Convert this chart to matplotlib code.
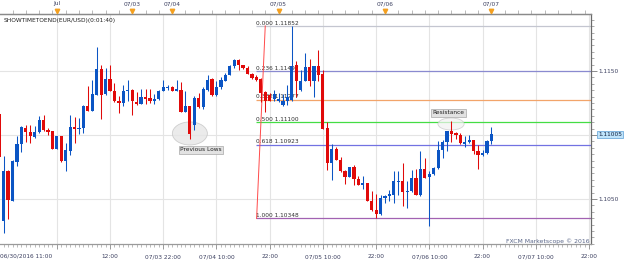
import matplotlib
matplotlib.use("Agg")
import matplotlib.pyplot as plt
from matplotlib.patches import Ellipse
from matplotlib.ticker import FixedLocator, MultipleLocator, NullFormatter
import numpy as np

# ---------------- data (hourly EUR/USD candles) ----------------
opens = [1.11165, 1.10331, 1.10716, 1.10487, 1.10789, 1.10930, 1.11055, 1.11024, 1.10987, 1.11021,
         1.11115, 1.11042, 1.11029, 1.10893, 1.10990, 1.10794, 1.10878, 1.11065, 1.11050, 1.11055,
         1.11227, 1.11190, 1.11315, 1.11518, 1.11320, 1.11438, 1.11346, 1.11268, 1.11250, 1.11341,
         1.11354, 1.11261, 1.11245, 1.11297, 1.11289, 1.11268, 1.11284, 1.11346, 1.11370, 1.11372,
         1.11346, 1.11354, 1.11182, 1.11224, 1.11081, 1.11289, 1.11216, 1.11354, 1.11438, 1.11310,
         1.11372, 1.11425, 1.11471, 1.11537, 1.11589, 1.11550, 1.11524, 1.11477, 1.11450, 1.11438,
         1.11336, 1.11315, 1.11284, 1.11268, 1.11232, 1.11268, 1.11276, 1.11544, 1.11354, 1.11425,
         1.11529, 1.11425, 1.11537, 1.11477, 1.11055, 1.10781, 1.10893, 1.10807, 1.10722, 1.10669,
         1.10750, 1.10656, 1.10612, 1.10625, 1.10487, 1.10417, 1.10386, 1.10508, 1.10521, 1.10534,
         1.10633, 1.10643, 1.10552, 1.10560, 1.10664, 1.10529, 1.10734, 1.10669, 1.10695, 1.10742,
         1.10886, 1.10945, 1.11029, 1.11016, 1.11003, 1.10930, 1.10943, 1.10958, 1.10878, 1.10847,
         1.10860, 1.10956]
highs = [1.11175, 1.10833, 1.10729, 1.10807, 1.10990, 1.11068, 1.11076, 1.11076, 1.11068, 1.11151,
         1.11159, 1.11055, 1.11034, 1.10995, 1.10992, 1.10938, 1.11159, 1.11141, 1.11133, 1.11232,
         1.11380, 1.11432, 1.11688, 1.11550, 1.11524, 1.11550, 1.11406, 1.11302, 1.11393, 1.11432,
         1.11358, 1.11336, 1.11359, 1.11362, 1.11359, 1.11320, 1.11354, 1.11432, 1.11393, 1.11380,
         1.11432, 1.11414, 1.11346, 1.11224, 1.11302, 1.11328, 1.11372, 1.11471, 1.11445, 1.11419,
         1.11450, 1.11484, 1.11550, 1.11594, 1.11594, 1.11550, 1.11537, 1.11484, 1.11466, 1.11445,
         1.11346, 1.11328, 1.11354, 1.11328, 1.11320, 1.11393, 1.11852, 1.11576, 1.11510, 1.11641,
         1.11596, 1.11540, 1.11662, 1.11510, 1.11102, 1.10930, 1.10904, 1.10826, 1.10729, 1.10750,
         1.10768, 1.10677, 1.10677, 1.10625, 1.10560, 1.10539, 1.10534, 1.10534, 1.10573, 1.10716,
         1.10716, 1.10781, 1.10638, 1.10729, 1.10737, 1.10873, 1.10820, 1.10716, 1.10748, 1.10956,
         1.10964, 1.11034, 1.11107, 1.11021, 1.11016, 1.10990, 1.11003, 1.10964, 1.10925, 1.10886,
         1.10964, 1.11060]
lows = [1.10820, 1.10234, 1.10344, 1.10482, 1.10760, 1.10867, 1.10945, 1.10938, 1.10977, 1.11016,
        1.11029, 1.10998, 1.10891, 1.10890, 1.10789, 1.10716, 1.10847, 1.10938, 1.11008, 1.11016,
        1.11190, 1.11185, 1.11315, 1.11125, 1.11310, 1.11340, 1.11258, 1.11172, 1.11224, 1.11263,
        1.11154, 1.11238, 1.11242, 1.11242, 1.11250, 1.11242, 1.11276, 1.11341, 1.11354, 1.11346,
        1.11346, 1.11182, 1.11180, 1.10969, 1.11042, 1.11211, 1.11206, 1.11346, 1.11302, 1.11307,
        1.11362, 1.11419, 1.11466, 1.11524, 1.11511, 1.11518, 1.11477, 1.11440, 1.11419, 1.11258,
        1.11180, 1.11263, 1.11268, 1.11258, 1.11229, 1.11232, 1.11263, 1.11294, 1.11346, 1.11419,
        1.11380, 1.11294, 1.11419, 1.11045, 1.10729, 1.10651, 1.10807, 1.10711, 1.10617, 1.10669,
        1.10612, 1.10607, 1.10581, 1.10482, 1.10404, 1.10352, 1.10378, 1.10469, 1.10482, 1.10469,
        1.10534, 1.10443, 1.10430, 1.10555, 1.10529, 1.10521, 1.10664, 1.10287, 1.10685, 1.10737,
        1.10820, 1.10873, 1.10945, 1.10969, 1.10930, 1.10904, 1.10938, 1.10852, 1.10737, 1.10833,
        1.10852, 1.10930]
closes = [1.10830, 1.10722, 1.10495, 1.10794, 1.10932, 1.11060, 1.11024, 1.10990, 1.11021, 1.11115,
          1.11037, 1.11024, 1.10893, 1.10992, 1.10794, 1.10880, 1.11060, 1.11050, 1.11055, 1.11227,
          1.11190, 1.11320, 1.11518, 1.11315, 1.11438, 1.11346, 1.11263, 1.11250, 1.11346, 1.11354,
          1.11263, 1.11242, 1.11294, 1.11284, 1.11268, 1.11284, 1.11346, 1.11372, 1.11377, 1.11346,
          1.11357, 1.11182, 1.11224, 1.11008, 1.11289, 1.11216, 1.11362, 1.11432, 1.11310, 1.11372,
          1.11432, 1.11471, 1.11542, 1.11589, 1.11550, 1.11524, 1.11477, 1.11445, 1.11430, 1.11328,
          1.11268, 1.11268, 1.11320, 1.11284, 1.11268, 1.11294, 1.11537, 1.11425, 1.11425, 1.11529,
          1.11425, 1.11537, 1.11471, 1.11050, 1.10781, 1.10893, 1.10807, 1.10716, 1.10669, 1.10750,
          1.10656, 1.10612, 1.10625, 1.10487, 1.10417, 1.10386, 1.10508, 1.10521, 1.10539, 1.10643,
          1.10643, 1.10552, 1.10565, 1.10664, 1.10529, 1.10734, 1.10664, 1.10695, 1.10742, 1.10886,
          1.10945, 1.11029, 1.11008, 1.11003, 1.10938, 1.10945, 1.10958, 1.10878, 1.10847, 1.10860,
          1.10956, 1.11005]

fib_ratios = ["0.000", "0.236", "0.382", "0.500", "0.618", "1.000"]
fib_prices = [1.11852, 1.11497, 1.11277, 1.11100, 1.10923, 1.10348]
fib_colors = ["#c4c6d0", "#8a8ad0", "#f2a46a", "#44dd44", "#7272e2", "#a262b2"]

bottom_tick_pos = [13, 25, 37, 49, 61, 73, 85, 97, 109, 121, 133]
bottom_tick_labels = ["", "12:00", "07/03 22:00", "07/04 10:00", "22:00", "07/05 10:00",
                      "22:00", "07/06 10:00", "22:00", "07/07 10:00", "22:00"]
first_time_label = "06/30/2016 11:00"
top_tick_pos = [13, 30, 39, 63, 87, 111]
top_tick_labels = ["Jul", "07/03", "07/04", "07/05", "07/06", "07/07"]
price_grid = [1.1050, 1.1100, 1.1150]
price_grid_labels = ["1.1050", "", "1.1150"]
last_price = 1.11005

# ---------------- figure ----------------
fig = plt.figure(figsize=(6.25, 2.62), dpi=100)
fig.patch.set_facecolor("white")
ax = fig.add_axes([0.0005, 0.0687, 0.945, 0.8760])
ax.set_xlim(0.25, 133.45)
ax.set_ylim(1.101484, 1.119414)

fs = 4.2
lab_col = "#3c4060"

# grid
for gx in bottom_tick_pos:
    ax.axvline(gx, color="#e4e4e4", lw=0.8, zorder=0)
for gy in price_grid:
    ax.axhline(gy, color="#e4e4e4", lw=0.8, zorder=0)

# fib retracement
fib_x0 = 57.9
fib_x1 = 133.45
for r, p, col in zip(fib_ratios, fib_prices, fib_colors):
    ax.plot([fib_x0, fib_x1], [p, p], color=col, lw=0.9, zorder=1, solid_capstyle="butt")
    ax.text(fib_x0 + 0.1, p + 0.00003, f"{r} {p:.5f}", fontsize=fs, color="#303030",
            ha="left", va="bottom", zorder=2)
ax.plot([58.05, 60.0], [fib_prices[-1], fib_prices[0]], color="#ff4a4a", lw=0.7, zorder=2)

# ellipses / annotations
ax.add_patch(Ellipse((43.0, 1.11012), 7.9, 0.0018, facecolor="#e6e6e6", edgecolor="#c4c4c4",
                     lw=0.6, alpha=0.8, zorder=1.5))
ax.text(45.5, 1.10883, "Previous Lows", fontsize=fs, color="#202020", ha="center", va="center",
        zorder=6, bbox=dict(boxstyle="square,pad=0.25", facecolor="#e2e2e2", edgecolor="#a8a8a8", lw=0.5))
ax.add_patch(Ellipse((101.9, 1.11086), 5.9, 0.00094, facecolor="#f2f2f2", edgecolor="#c4c4c4",
                     lw=0.6, alpha=0.7, zorder=1.5))
ax.text(101.3, 1.11172, "Resistance", fontsize=fs, color="#202020", ha="center", va="center",
        zorder=6, bbox=dict(boxstyle="square,pad=0.25", facecolor="#e2e2e2", edgecolor="#a8a8a8", lw=0.5))

# candles
o = np.array(opens); h = np.array(highs); l = np.array(lows); c = np.array(closes)
xs = np.arange(len(o))
up = c >= o
cols = np.where(up, "#0b55c4", "#e00a0a")
ax.vlines(xs, l, h, colors=cols, lw=0.75, zorder=3)
bottoms = np.minimum(o, c)
heights = np.maximum(np.abs(c - o), 0.00007)
ax.bar(xs, heights, width=0.72, bottom=bottoms, color=cols, lw=0, zorder=4)

# spines
ax.spines["left"].set_visible(False)
ax.spines["bottom"].set_color("#9a9a9a")
ax.spines["top"].set_color("#8a8a8a")
ax.spines["right"].set_color("#6a6a6a")
for s in ["bottom", "top", "right"]:
    ax.spines[s].set_linewidth(0.9)

# bottom axis
ax.xaxis.set_major_locator(FixedLocator(bottom_tick_pos))
ax.set_xticklabels(bottom_tick_labels)
ax.xaxis.set_minor_locator(MultipleLocator(1))
ax.tick_params(axis="x", which="major", length=3.6, width=0.6, color="#8a8a8a",
               labelsize=fs, labelcolor=lab_col, pad=3.8, top=False)
ax.tick_params(axis="x", which="minor", length=2.0, width=0.5, color="#a0a0a0", top=False)
ax.text(0.0, -0.0435, first_time_label, transform=ax.transAxes, fontsize=fs, color=lab_col,
        ha="left", va="top")

# top axis
sec = ax.secondary_xaxis("top")
sec.xaxis.set_major_locator(FixedLocator(top_tick_pos))
sec.set_xticklabels(top_tick_labels)
sec.xaxis.set_minor_locator(MultipleLocator(3))
sec.tick_params(axis="x", which="major", length=3.2, width=0.6, color="#8a8a8a",
                labelsize=fs, labelcolor=lab_col, pad=2.6)
sec.tick_params(axis="x", which="minor", length=2.6, width=0.5, color="#a0a0a0")
sec.spines["top"].set_color("#8a8a8a")
sec.spines["top"].set_linewidth(0.9)
ax.plot(top_tick_pos, [1.014] * len(top_tick_pos), linestyle="none", marker="v", markersize=3.2,
        color="#f4a020", transform=ax.get_xaxis_transform(), clip_on=False, zorder=7)

# right axis
ax.yaxis.tick_right()
ax.yaxis.set_major_locator(FixedLocator(price_grid))
ax.set_yticklabels(price_grid_labels)
ax.yaxis.set_minor_locator(MultipleLocator(0.0005))
ax.yaxis.set_minor_formatter(NullFormatter())
ax.tick_params(axis="y", which="major", length=4.2, width=0.6, color="#7a7a7a",
               labelsize=fs, labelcolor=lab_col, pad=1.4, left=False)
ax.tick_params(axis="y", which="minor", length=1.8, width=0.5, color="#8a8a8a", left=False)

# last price label
ax.annotate(f"{last_price:.5f}", xy=(1.0, last_price), xycoords=("axes fraction", "data"),
            xytext=(1.0125, last_price), textcoords=("axes fraction", "data"),
            fontsize=fs, color="#102040", ha="left", va="center", annotation_clip=False,
            bbox=dict(boxstyle="square,pad=0.2", facecolor="#bfe4fb", edgecolor="#5c9fd6", lw=0.5),
            zorder=8)

# texts
ax.text(0.005, 0.985, "SHOWTIMETOEND(EUR/USD)(0:01:40)", transform=ax.transAxes, fontsize=fs,
        color="#202020", ha="left", va="top", zorder=8)
ax.text(0.998, 0.014, "FXCM Marketscope \u00a9 2016", transform=ax.transAxes, fontsize=fs + 0.2,
        color="#5a6688", ha="right", va="center", zorder=8)

fig.savefig("out.png", dpi=100, facecolor="white")
